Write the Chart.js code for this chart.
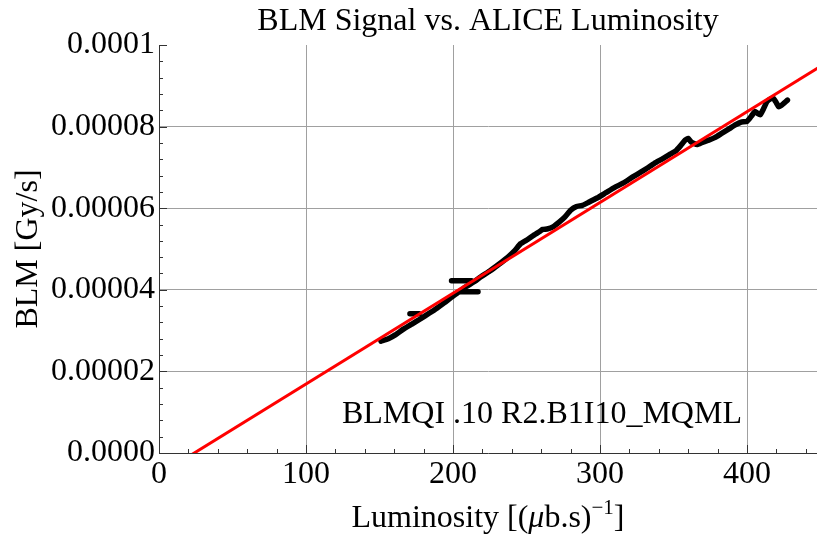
<!DOCTYPE html>
<html><head><meta charset="utf-8">
<script src="https://cdn.jsdelivr.net/npm/chart.js@4.4.0/dist/chart.umd.min.js"></script>
<style>html,body{margin:0;padding:0;background:#fff;}#wrap{width:817px;height:536px;}</style>
</head><body><div id="wrap"><canvas id="c" width="817" height="536"></canvas></div>
<script>
// ---- data ----
const lumi = [151,156,161,166,172,178,184,189,194,199,204,209,214,219,225,231,237,242,246,251,255,259,261,264,268,272,276,280,284,288,292,298,304,310,316,322,328,332,337,343,348,352,355,358,360,362,366,370,374,378,383,388,392,396,400,403,405.5,407,409,411,413.5,416,418,420,421.5,423,425,427.5];
const blm = [27.4e-6,28.0e-6,29.0e-6,30.3e-6,31.6e-6,32.9e-6,34.3e-6,35.5e-6,36.8e-6,38.2e-6,39.5e-6,40.8e-6,41.9e-6,43.2e-6,44.6e-6,46.2e-6,47.9e-6,49.6e-6,51.3e-6,52.4e-6,53.4e-6,54.3e-6,54.8e-6,54.9e-6,55.4e-6,56.5e-6,57.8e-6,59.5e-6,60.4e-6,60.7e-6,61.4e-6,62.5e-6,63.8e-6,65.1e-6,66.2e-6,67.6e-6,68.9e-6,69.8e-6,71.0e-6,72.2e-6,73.3e-6,74.2e-6,75.4e-6,76.7e-6,77.1e-6,76.2e-6,75.6e-6,76.2e-6,76.7e-6,77.3e-6,78.4e-6,79.5e-6,80.4e-6,81.1e-6,81.3e-6,82.6e-6,83.7e-6,83.3e-6,82.9e-6,84.2e-6,86.1e-6,86.8e-6,86.9e-6,85.8e-6,84.9e-6,85.1e-6,85.7e-6,86.5e-6];
// short horizontal pieces of the trace (null = break)
const stepLumi = [199,212.6,null,205,217,null,170.7,177];
const stepBlm = [42.2e-6,42.2e-6,null,39.5e-6,39.5e-6,null,34.1e-6,34.1e-6];
// linear fit line
const fitLumi = [0,450];
const fitBlm = [-5.34e-6,94.79e-6];
// axes
const xMin = 0, xMax = 447.6, xMinorStep = 20, xMajorEvery = 5;
const xTickLabels = ['0','100','200','300','400'];
const yMin = 0, yMax = 1e-4, yMinorStep = 4e-6, yMajorEvery = 5;
const yTickLabels = ['0.0000','0.00002','0.00004','0.00006','0.00008','0.0001'];
const titleText = 'BLM Signal vs. ALICE Luminosity';
const yTitle = 'BLM [Gy/s]';
const xTitleParts = [['Luminosity [(',''],['μ','italic'],['b.s)',''],['−1','sup'],[']','']];
const noteText = 'BLMQI .10 R2.B1I10_MQML';
const noteAt = {x:260.5, y:7.3e-6};

const FONT = 'Liberation Serif';
const FS = 32;
const xCount = Math.floor((xMax - xMin)/xMinorStep + 1e-9) + 1;
const yCount = Math.round((yMax - yMin)/yMinorStep) + 1;

const pts = (xs, ys) => xs.map((x,i)=>({x: x===null?NaN:x, y: ys[i]}));

const innerTicks = {
  id:'innerTicks',
  beforeDatasetsDraw(chart){
    const {ctx, chartArea:a, scales:{x,y}} = chart;
    ctx.save(); ctx.strokeStyle='#333'; ctx.lineWidth=1;
    ctx.beginPath();
    x.ticks.forEach((t,i)=>{ const px=Math.round(x.getPixelForValue(t.value))+0.5; const L=(i%xMajorEvery===0)?8:4;
      ctx.moveTo(px,a.bottom); ctx.lineTo(px,a.bottom-L); });
    y.ticks.forEach((t,i)=>{ const py=Math.round(y.getPixelForValue(t.value))+0.5; const L=(i%yMajorEvery===0)?8:4;
      ctx.moveTo(a.left,py); ctx.lineTo(a.left+L,py); });
    ctx.stroke(); ctx.restore();
  },
  afterDraw(chart){
    const {ctx, chartArea:a, scales:{x,y}} = chart;
    ctx.save(); ctx.fillStyle='#000'; ctx.textBaseline='alphabetic';
    ctx.font = FS+'px "'+FONT+'"'; ctx.textAlign='center';
    ctx.fillText(noteText, x.getPixelForValue(noteAt.x), y.getPixelForValue(noteAt.y));
    const fontOf = s => s==='italic' ? 'italic '+FS+'px "'+FONT+'"' : (s==='sup' ? '21px "'+FONT+'"' : FS+'px "'+FONT+'"');
    let total = 0;
    xTitleParts.forEach(p=>{ ctx.font=fontOf(p[1]); total += ctx.measureText(p[0]).width; });
    let cx = (a.left + a.right)/2 - total/2; const base = 527;
    ctx.textAlign='left';
    xTitleParts.forEach(p=>{ ctx.font=fontOf(p[1]); ctx.fillText(p[0], cx, base + (p[1]==='sup'?-13:0)); cx += ctx.measureText(p[0]).width; });
    ctx.restore();
  }
};

new Chart(document.getElementById('c'), {
  type:'line',
  data:{ datasets:[
    {data: pts(fitLumi, fitBlm), borderColor:'#ff0000', borderWidth:3, pointRadius:0, tension:0},
    {data: pts(stepLumi, stepBlm), borderColor:'#000', borderWidth:5.5, pointRadius:0, borderCapStyle:'round', spanGaps:false},
    {data: pts(lumi, blm), borderColor:'#000', borderWidth:5.5, pointRadius:0, borderCapStyle:'round', borderJoinStyle:'round', tension:0.15}
  ]},
  options:{
    responsive:false, animation:false, devicePixelRatio:1,
    layout:{padding:0},
    plugins:{ legend:{display:false}, tooltip:{enabled:false},
      title:{display:true, text:titleText, fullSize:false, color:'#000', font:{family:FONT, size:FS, weight:'normal', lineHeight:1.2}, padding:{top:2,bottom:4.6}} },
    scales:{
      x:{ type:'linear', min:xMin, max:xMax,
        afterBuildTicks: s=>{ s.ticks = Array.from({length:xCount},(_,i)=>({value:xMin+i*xMinorStep})); },
        afterFit: s=>{ s.height = 83; },
        grid:{ drawTicks:false, lineWidth:1, color: c => (c.index>0 && c.index%xMajorEvery===0) ? '#a0a0a0' : 'rgba(0,0,0,0)' },
        border:{ display:true, color:'#333', width:1 },
        ticks:{ padding:2, autoSkip:false, maxRotation:0, color:'#000', font:{family:FONT,size:FS},
          callback:(v,i)=> i%xMajorEvery===0 ? xTickLabels[i/xMajorEvery] : '' }
      },
      y:{ type:'linear', min:yMin, max:yMax,
        afterBuildTicks: s=>{ s.ticks = Array.from({length:yCount},(_,i)=>({value:yMin+i*yMinorStep})); },
        afterFit: s=>{ s.width = 159; },
        grid:{ drawTicks:false, lineWidth:1, color: c => (c.index>0 && c.index<yCount-1 && c.index%yMajorEvery===0) ? '#a0a0a0' : 'rgba(0,0,0,0)' },
        border:{ display:true, color:'#333', width:1 },
        ticks:{ padding:4, autoSkip:false, color:'#000', font:{family:FONT,size:FS},
          callback:(v,i)=> i%yMajorEvery===0 ? yTickLabels[i/yMajorEvery] : '' },
        title:{ display:true, text:yTitle, color:'#000', font:{family:FONT,size:FS}, padding:{top:9,bottom:0} }
      }
    }
  },
  plugins:[innerTicks]
});
</script></body></html>
